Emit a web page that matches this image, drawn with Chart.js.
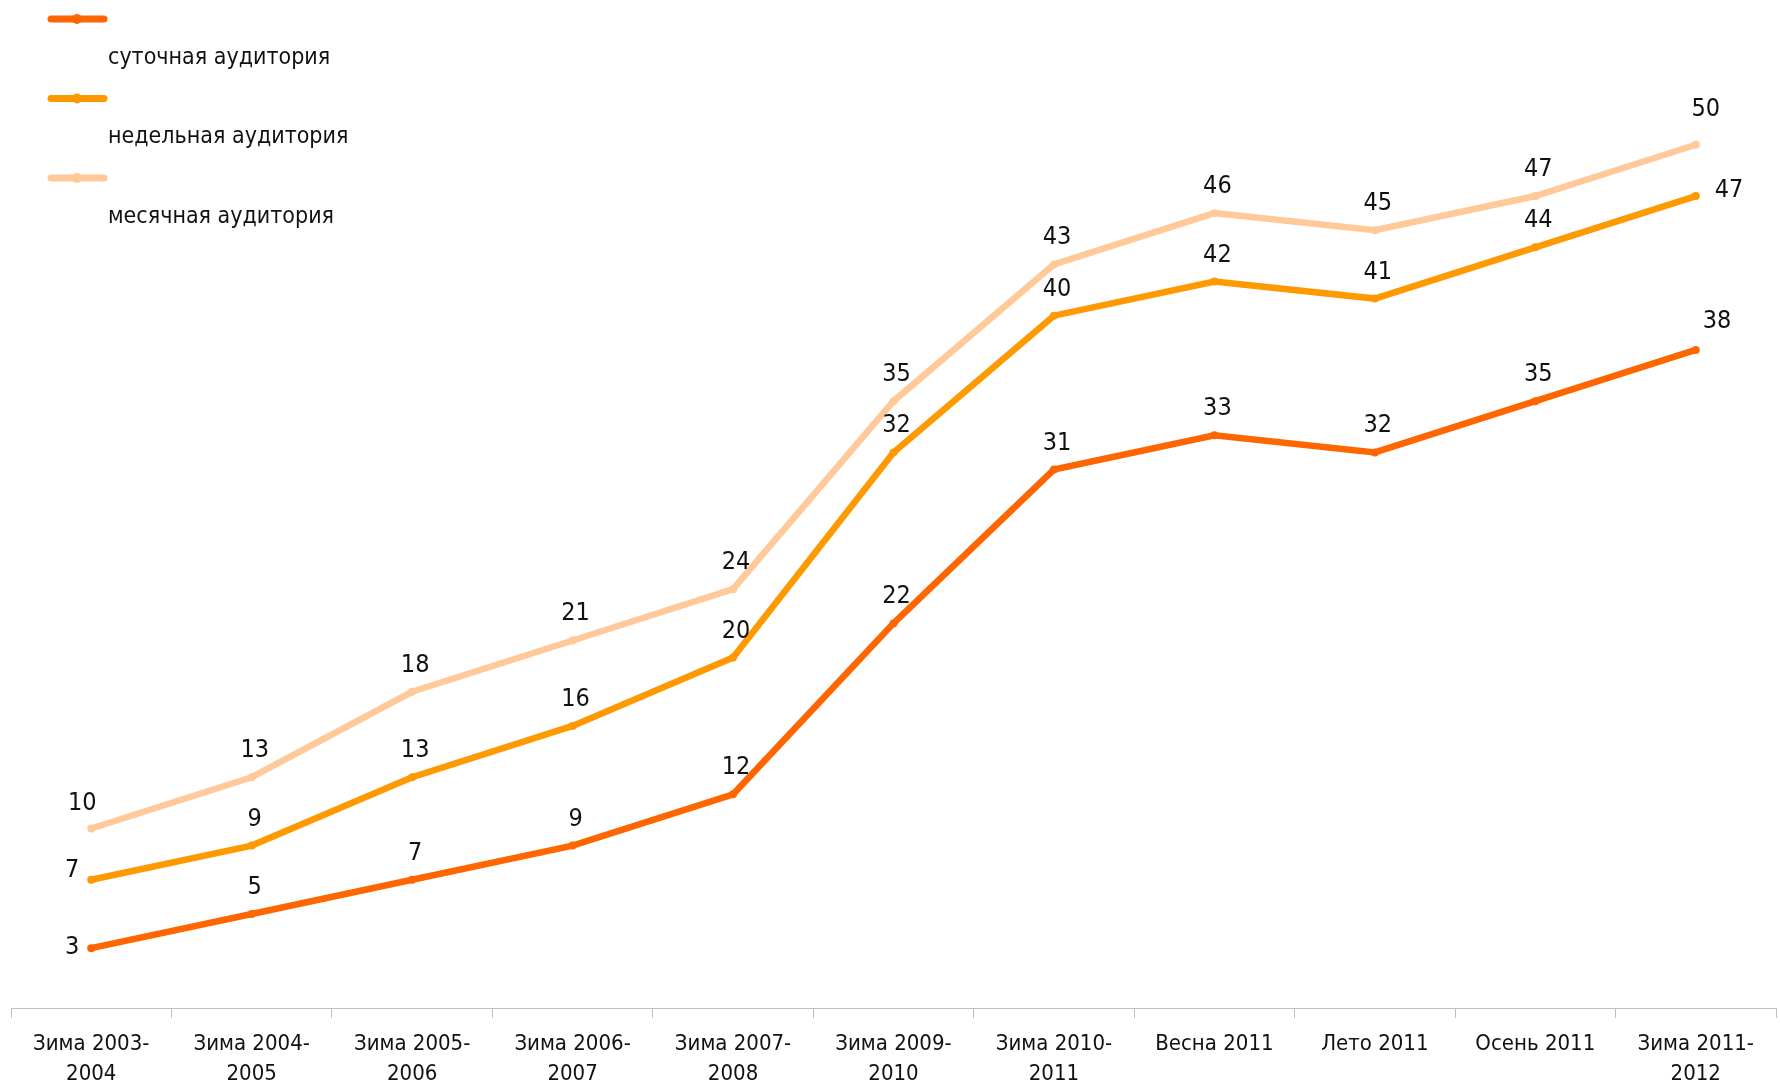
<!DOCTYPE html>
<html>
<head>
<meta charset="utf-8">
<script src="https://cdn.jsdelivr.net/npm/chart.js@4/dist/chart.umd.min.js"></script>
<style>
html,body{margin:0;padding:0;background:#fff;}
#wrap{width:1780px;height:1084px;position:relative;}
</style>
</head>
<body>
<div id="wrap"><canvas id="c" width="1780" height="1084"></canvas></div>
<script>
const categories = [
  ['Зима 2003-','2004'], ['Зима 2004-','2005'], ['Зима 2005-','2006'], ['Зима 2006-','2007'],
  ['Зима 2007-','2008'], ['Зима 2009-','2010'], ['Зима 2010-','2011'], 'Весна 2011',
  'Лето 2011', 'Осень 2011', ['Зима 2011-','2012']
];
const seriesNames = ['суточная аудитория', 'недельная аудитория', 'месячная аудитория'];
const dailyValues   = [3, 5, 7, 9, 12, 22, 31, 33, 32, 35, 38];
const weeklyValues  = [7, 9, 13, 16, 20, 32, 40, 42, 41, 44, 47];
const monthlyValues = [10, 13, 18, 21, 24, 35, 43, 46, 45, 47, 50];

const FONT = "'DejaVu Sans Condensed', 'Liberation Sans Narrow', 'Open Sans', sans-serif";
const colors = ['#FF6600', '#FF9900', '#FFC999'];
const TEXT = '#111111';

const labelPlugin = {
  id: 'valueLabels',
  afterDatasetsDraw(chart) {
    const ctx = chart.ctx;
    ctx.save();
    ctx.font = '25px ' + FONT;
    ctx.fillStyle = TEXT;
    ctx.textBaseline = 'alphabetic';
    chart.data.datasets.forEach((ds, di) => {
      const meta = chart.getDatasetMeta(di);
      const n = meta.data.length;
      meta.data.forEach((pt, i) => {
        const txt = String(ds.data[i]);
        let spec = { align: 'center', dx: 3, dy: -20 };
        if (i === 0 && ds.firstLabel) spec = ds.firstLabel;
        if (i === n - 1 && ds.lastLabel) spec = ds.lastLabel;
        ctx.textAlign = spec.align;
        ctx.fillText(txt, pt.x + spec.dx, pt.y + spec.dy);
      });
    });
    ctx.restore();
  }
};

const legendPlugin = {
  id: 'customLegend',
  afterDraw(chart) {
    const ctx = chart.ctx;
    ctx.save();
    chart.data.datasets.forEach((ds, i) => {
      const ly = 19 + i * 79.5;
      ctx.strokeStyle = ds.borderColor;
      ctx.lineWidth = 7;
      ctx.lineCap = 'round';
      ctx.beginPath();
      ctx.moveTo(51, ly);
      ctx.lineTo(104, ly);
      ctx.stroke();
      ctx.fillStyle = ds.borderColor;
      ctx.beginPath();
      ctx.arc(77, ly, 5, 0, Math.PI * 2);
      ctx.fill();
      ctx.fillStyle = TEXT;
      ctx.font = '23px ' + FONT;
      ctx.textAlign = 'left';
      ctx.textBaseline = 'middle';
      ctx.fillText(ds.label, 108, ly + 39);
    });
    ctx.restore();
  }
};

function makeDs(label, data, color, extra) {
  return Object.assign({
    label, data,
    borderColor: color, backgroundColor: color,
    borderWidth: 6.5, pointRadius: 4, pointBorderWidth: 0,
    pointBackgroundColor: color, tension: 0, fill: false
  }, extra || {});
}

new Chart(document.getElementById('c'), {
  type: 'line',
  data: {
    labels: categories,
    datasets: [
      makeDs(seriesNames[0], dailyValues, colors[0], {
        firstLabel: { align: 'right', dx: -12, dy: 6 },
        lastLabel: { align: 'left', dx: 7, dy: -22 }
      }),
      makeDs(seriesNames[1], weeklyValues, colors[1], {
        firstLabel: { align: 'right', dx: -12, dy: -3 },
        lastLabel: { align: 'left', dx: 19, dy: 1 }
      }),
      makeDs(seriesNames[2], monthlyValues, colors[2], {
        firstLabel: { align: 'center', dx: -9, dy: -19 },
        lastLabel: { align: 'center', dx: 10, dy: -29 }
      })
    ]
  },
  options: {
    responsive: false,
    animation: false,
    layout: { padding: { left: 11, right: 2, top: 8, bottom: 0 } },
    plugins: { legend: { display: false }, tooltip: { enabled: false } },
    scales: {
      x: {
        offset: true,
        grid: { offset: true, drawOnChartArea: false, drawTicks: true, tickLength: 10, color: '#BFBFBF', lineWidth: 1 },
        border: { display: true, color: '#BFBFBF', width: 1 },
        ticks: { color: TEXT, font: { family: FONT, size: 22, lineHeight: 30 / 22 }, padding: 11, maxRotation: 0, autoSkip: false },
        afterFit(scale) { scale.height = 76; }
      },
      y: {
        display: false,
        min: -0.5, max: 58
      }
    }
  },
  plugins: [labelPlugin, legendPlugin]
});
</script>
</body>
</html>
